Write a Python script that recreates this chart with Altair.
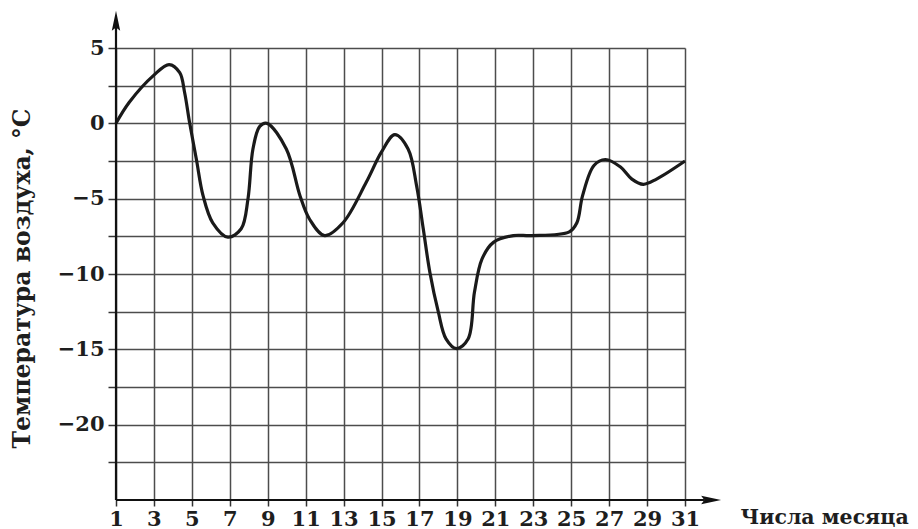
import altair as alt
import pandas as pd

# Curve (day of month, air temperature in °C)
days = [1, 1.7, 3, 3.8, 4.36, 4.62, 4.88, 5.24, 5.59, 6.1, 6.9, 7.6, 7.96, 8.22,
        8.58, 8.96, 9.98, 10.7, 11.2, 12.0, 12.97, 14.2, 15.0, 15.7, 16.4, 16.85,
        17.2, 17.55, 17.99, 18.4, 18.96, 19.57, 19.9, 20.3, 20.9, 21.95, 22.9,
        24.9, 25.3, 25.6, 26.2, 26.8, 27.6, 28.2, 28.8, 29.5, 31]
temps = [0, 1.4, 3.2, 3.9, 3.36, 2.03, 0.05, -2.4, -4.8, -6.6, -7.55, -7.0, -5.0, -1.7,
         -0.2, 0, -1.7, -4.8, -6.35, -7.45, -6.6, -3.9, -1.9, -0.75, -1.7, -4.15,
         -7.0, -9.9, -12.5, -14.3, -14.95, -14.3, -11.2, -9.0, -7.9, -7.45, -7.45,
         -7.2, -6.6, -4.8, -2.8, -2.4, -2.9, -3.7, -4.05, -3.7, -2.5]

x_ticks = list(range(1, 32, 2))
y_ticks = [-22.5, -20, -17.5, -15, -12.5, -10, -7.5, -5, -2.5, 0, 2.5, 5]
y_title = "Температура воздуха, °С"
x_title = "Числа месяца"

# axis arrows (data units)
y_axis_line = {"x": [1], "y": [-25], "y2": [6.5]}
x_axis_line = {"x": [1], "x2": [32.0], "y": [-25]}
up_arrow = {"x": [1], "y": [6.78]}
right_arrow = {"x": [32.35], "y": [-25]}

FONT = "DejaVu Serif"
x_scale = alt.Scale(domain=[1, 31], nice=False, zero=False)
y_scale = alt.Scale(domain=[-25, 5], nice=False, zero=False)

df = pd.DataFrame({"day": days, "temp": temps})

x_axis = alt.Axis(
    values=x_ticks, grid=True, gridColor="#4d4d4d", gridWidth=1.5,
    domain=False, ticks=True, tickSize=6, tickColor="#333333", tickWidth=1.5,
    labelFont=FONT, labelFontSize=21, labelFontWeight="bold", labelColor="#1e1e1e",
    labelPadding=2, labelAngle=0, labelOverlap=False, labelFlush=False,
    title=x_title, titleFont=FONT, titleFontSize=20.5, titleFontWeight="bold",
    titleColor="#1e1e1e", titleAlign="left", titleBaseline="middle",
    titleX=624, titleY=17,
)
y_axis = alt.Axis(
    values=y_ticks, grid=True, gridColor="#4d4d4d", gridWidth=1.5,
    domain=False, ticks=True, tickSize=8, tickColor="#333333", tickWidth=1.5,
    labelFont=FONT, labelFontSize=21, labelFontWeight="bold", labelColor="#1e1e1e",
    labelPadding=4, labelOverlap=False, labelFlush=False,
    labelExpr="datum.value % 5 == 0 ? datum.label : ''",
    title=y_title, titleFont=FONT, titleFontSize=23.5, titleFontWeight="bold",
    titleColor="#1e1e1e", titleAngle=270, titleAlign="center", titleBaseline="middle",
    titleX=-94, titleY=230,
)

X = lambda f: alt.X(f, scale=x_scale, axis=x_axis)
Y = lambda f: alt.Y(f, scale=y_scale, axis=y_axis)

curve = alt.Chart(df).mark_line(
    color="#1a1a1a", strokeWidth=3.2, interpolate="catmull-rom"
).encode(x=X("day:Q"), y=Y("temp:Q"))

yline = alt.Chart(pd.DataFrame(y_axis_line)).mark_rule(color="#111111", strokeWidth=2.2).encode(
    x=X("x:Q"), y=Y("y:Q"), y2="y2:Q",
)
xline = alt.Chart(pd.DataFrame(x_axis_line)).mark_rule(color="#111111", strokeWidth=2.2).encode(
    x=X("x:Q"), x2="x2:Q", y=Y("y:Q"),
)
uarrow = alt.Chart(pd.DataFrame(up_arrow)).mark_point(
    shape="M0,-1L0.4,0.9L0,0.6L-0.4,0.9Z", filled=True, size=441, color="#111111", opacity=1
).encode(x=X("x:Q"), y=Y("y:Q"))
rarrow = alt.Chart(pd.DataFrame(right_arrow)).mark_point(
    shape="M1,0L-0.9,0.4L-0.6,0L-0.9,-0.4Z", filled=True, size=441, color="#111111", opacity=1
).encode(x=X("x:Q"), y=Y("y:Q"))

chart = alt.layer(curve, yline, xline, uarrow, rarrow).properties(
    width=569, height=452,
    autosize=alt.AutoSizeParams(type="none"),
    padding={"left": 108, "top": 40, "right": 225, "bottom": 29},
    background="white",
).configure_view(stroke=None)

chart.save("out.html", embed_options={"renderer": "svg", "actions": False})
